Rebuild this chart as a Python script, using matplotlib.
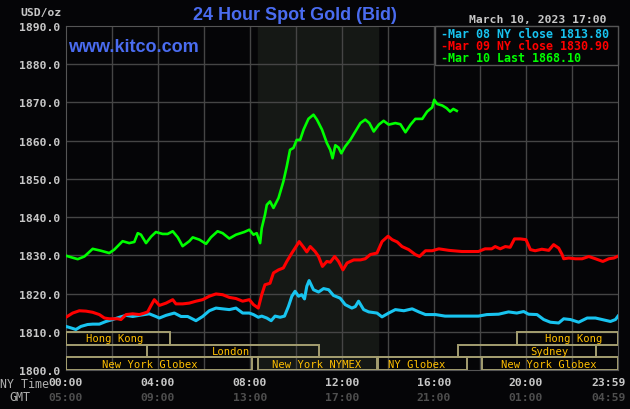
import matplotlib
matplotlib.use("Agg")
import matplotlib.pyplot as plt
from matplotlib.patches import Rectangle

# --- data (hours since 00:00 NY time, price USD/oz) ---
green_t = [0.00, 0.22, 0.51, 0.80, 1.16, 1.52, 1.88, 2.10, 2.46, 2.75, 2.97, 3.12, 3.26, 3.48,
           3.70, 3.91, 4.20, 4.42, 4.64, 4.86, 5.07, 5.36, 5.51, 5.80, 6.09, 6.30, 6.59, 6.81,
           7.10, 7.39, 7.75, 7.97, 8.15, 8.29, 8.44, 8.51, 8.65, 8.73, 8.87, 9.02, 9.24, 9.45,
           9.60, 9.74, 9.89, 10.03, 10.18, 10.33, 10.54, 10.76, 10.91, 11.13, 11.34, 11.49,
           11.59, 11.71, 11.85, 11.97, 12.14, 12.36, 12.58, 12.80, 13.01, 13.19, 13.38, 13.60,
           13.81, 14.03, 14.32, 14.54, 14.76, 14.98, 15.19, 15.49, 15.70, 15.92, 16.01, 16.14,
           16.36, 16.55, 16.70, 16.84, 16.99]
green_v = [1829.9, 1829.5, 1829.0, 1829.7, 1831.7, 1831.2, 1830.6, 1831.5, 1833.7, 1833.2,
           1833.5, 1835.8, 1835.4, 1833.2, 1834.9, 1836.1, 1835.6, 1835.6, 1836.3, 1834.7,
           1832.4, 1833.7, 1834.7, 1834.1, 1833.0, 1834.7, 1836.3, 1835.8, 1834.4, 1835.4,
           1836.1, 1836.7, 1835.4, 1835.8, 1833.2, 1837.1, 1840.6, 1843.2, 1844.1, 1842.4,
           1845.0, 1849.3, 1853.3, 1857.6, 1858.1, 1860.2, 1860.2, 1862.9, 1865.7, 1866.8,
           1865.5, 1862.9, 1859.4, 1857.6, 1855.4, 1858.8, 1858.2, 1856.7, 1858.5, 1860.2,
           1862.4, 1864.6, 1865.5, 1864.6, 1862.4, 1864.2, 1865.2, 1864.2, 1864.6, 1864.3,
           1862.2, 1864.2, 1865.7, 1865.7, 1867.6, 1868.7, 1870.7, 1869.6, 1869.2, 1868.5,
           1867.6, 1868.3, 1867.8]

red_t = [0.00, 0.29, 0.58, 0.87, 1.16, 1.45, 1.67, 1.88, 2.25, 2.39, 2.61, 2.90, 3.19, 3.41,
         3.55, 3.70, 3.84, 4.06, 4.35, 4.64, 4.78, 5.07, 5.36, 5.65, 5.94, 6.23, 6.52, 6.81,
         7.10, 7.39, 7.68, 7.97, 8.15, 8.36, 8.51, 8.65, 8.87, 9.02, 9.24, 9.45, 9.60, 9.82,
         9.96, 10.14, 10.33, 10.47, 10.62, 10.83, 10.98, 11.15, 11.34, 11.49, 11.68, 11.85,
         12.04, 12.22, 12.51, 12.80, 13.01, 13.23, 13.52, 13.74, 14.00, 14.18, 14.40, 14.61,
         14.90, 15.19, 15.37, 15.63, 15.92, 16.21, 16.65, 17.21, 17.93, 18.22, 18.51, 18.66,
         18.88, 19.10, 19.31, 19.50, 19.75, 20.00, 20.19, 20.40, 20.69, 20.99, 21.20, 21.42,
         21.57, 21.64, 21.86, 22.15, 22.44, 22.73, 23.02, 23.34, 23.60, 23.82, 23.97]
red_v = [1813.8, 1814.9, 1815.5, 1815.4, 1815.1, 1814.5, 1813.6, 1813.4, 1813.4, 1813.2,
         1814.5, 1814.7, 1814.5, 1814.9, 1815.2, 1816.9, 1818.4, 1816.9, 1817.5, 1818.4,
         1817.3, 1817.3, 1817.5, 1818.0, 1818.4, 1819.3, 1819.9, 1819.7, 1819.0, 1818.7,
         1818.0, 1818.4, 1817.1, 1816.2, 1819.7, 1822.3, 1822.7, 1825.4, 1826.2, 1826.7,
         1828.4, 1830.6, 1831.9, 1833.6, 1832.1, 1830.9, 1832.3, 1831.0, 1829.7, 1827.1,
         1828.4, 1828.2, 1829.7, 1828.4, 1826.2, 1828.0, 1828.8, 1828.8, 1829.1, 1830.2,
         1830.6, 1833.6, 1835.0, 1834.1, 1833.5, 1832.3, 1831.5, 1830.2, 1829.7, 1831.2,
         1831.2, 1831.7, 1831.3, 1831.0, 1831.0, 1831.7, 1831.7, 1832.3, 1831.7, 1832.3,
         1832.1, 1834.3, 1834.3, 1834.1, 1831.5, 1831.2, 1831.6, 1831.3, 1832.8, 1831.9,
         1830.2, 1829.1, 1829.3, 1829.1, 1829.1, 1829.7, 1829.1, 1828.4, 1829.1, 1829.3,
         1829.7]

cyan_t = [0.00, 0.22, 0.43, 0.65, 0.94, 1.16, 1.45, 1.74, 2.03, 2.32, 2.61, 2.90, 3.19, 3.62,
          3.91, 4.06, 4.35, 4.71, 5.00, 5.29, 5.65, 5.94, 6.23, 6.52, 6.81, 7.10, 7.39, 7.68,
          7.97, 8.15, 8.36, 8.51, 8.73, 8.92, 9.09, 9.31, 9.50, 9.67, 9.82, 9.96, 10.11, 10.25,
          10.37, 10.47, 10.57, 10.76, 10.98, 11.20, 11.42, 11.63, 11.92, 12.14, 12.43, 12.58,
          12.72, 12.94, 13.16, 13.52, 13.74, 14.03, 14.32, 14.69, 15.05, 15.34, 15.63, 16.07,
          16.48, 17.21, 17.93, 18.30, 18.81, 19.24, 19.60, 19.90, 20.11, 20.48, 20.77, 21.06,
          21.42, 21.64, 21.93, 22.29, 22.66, 23.02, 23.31, 23.67, 23.89, 24.00]
cyan_v = [1811.4, 1811.0, 1810.6, 1811.4, 1811.9, 1812.0, 1812.0, 1812.7, 1813.2, 1813.8,
          1814.3, 1814.0, 1814.3, 1814.7, 1814.0, 1813.6, 1814.3, 1814.9, 1814.0, 1814.0,
          1812.9, 1814.0, 1815.5, 1816.2, 1816.0, 1815.8, 1816.2, 1814.9, 1814.9, 1814.5,
          1813.8, 1814.1, 1813.6, 1812.9, 1814.1, 1813.8, 1814.1, 1816.6, 1819.3, 1820.6,
          1819.3, 1819.7, 1818.6, 1821.9, 1823.4, 1821.0, 1820.4, 1821.3, 1821.0, 1819.5,
          1818.8, 1817.1, 1816.2, 1816.6, 1818.0, 1815.8, 1815.2, 1814.9, 1813.9, 1814.9,
          1815.8, 1815.5, 1816.0, 1815.2, 1814.5, 1814.5, 1814.1, 1814.1, 1814.1, 1814.5,
          1814.6, 1815.2, 1814.9, 1815.3, 1814.6, 1814.5, 1813.2, 1812.5, 1812.3, 1813.4,
          1813.2, 1812.5, 1813.6, 1813.6, 1813.2, 1812.7, 1813.2, 1814.1]

legend_labels = ["Mar 08 NY close 1813.80", "Mar 09 NY close 1830.90", "Mar 10 Last 1868.10"]

# market sessions: (row, start hour, end hour, label, label hour)
sessions = [
    (0, 0.0, 4.52, "Hong Kong", 2.13),
    (0, 19.6, 24.0, "Hong Kong", 22.09),
    (1, 3.52, 11.0, "London", 7.17),
    (1, 17.06, 23.03, "Sydney", 21.0),
    (2, 0.0, 8.07, "New York Globex", 3.65),
    (2, 8.33, 13.53, "New York NYMEX", 10.91),
    (2, 13.58, 17.42, "NY Globex", 15.26),
    (2, 18.1, 24.0, "New York Globex", 21.0),
]
nymex_span = (8.33, 13.55)

xtick_hours = [0, 4, 8, 12, 16, 20, 23.6]
ny_labels = ["00:00", "04:00", "08:00", "12:00", "16:00", "20:00", "23:59"]
gmt_labels = ["05:00", "09:00", "13:00", "17:00", "21:00", "01:00", "04:59"]

BG = "#050507"
MONO = "DejaVu Sans Mono"

fig = plt.figure(figsize=(6.3, 4.1), dpi=100, facecolor=BG)
ax = fig.add_axes([66 / 630, 39 / 410, 552 / 630, 344 / 410], facecolor=BG)
ax.set_xlim(0, 24)
ax.set_ylim(1800, 1890)

ax.axvspan(*nymex_span, color="#151815", zorder=0)
for h in range(2, 24, 2):
    ax.axvline(h, color="#454545", lw=1, zorder=1)
for v in range(1810, 1890, 10):
    ax.axhline(v, color="#454545", lw=1, zorder=1)
for s in ax.spines.values():
    s.set_color("#555555")

ax.plot(cyan_t, cyan_v, color="#18c4f0", lw=2.2, zorder=3)
ax.plot(red_t, red_v, color="#ff0000", lw=2.2, zorder=3)
ax.plot(green_t, green_v, color="#00ff00", lw=1.9, zorder=4)

# session boxes in the bottom band
row_h = 10 / 3
for row, t0, t1, name, tx in sessions:
    y1 = 1810 - row * row_h
    ax.add_patch(Rectangle((t0, y1 - row_h), t1 - t0, row_h, fill=False,
                           edgecolor="#a49e70", lw=1.4, zorder=5))
    ax.text(tx, y1 - row_h / 2, name, color="#ffbf00", family=MONO,
            fontsize=7.6, ha="center", va="center", zorder=6)

ax.set_yticks(range(1800, 1891, 10))
ax.set_yticklabels([f"{v:.1f}" for v in range(1800, 1891, 10)], family=MONO,
                   fontsize=8.2, fontweight="bold", color="#c8c8c8")
ax.tick_params(length=0, pad=4)
ax.set_xticks([])

for h, a, b in zip(xtick_hours, ny_labels, gmt_labels):
    ax.text(h, -0.036, a, transform=ax.get_xaxis_transform(), ha="center", va="center",
            family=MONO, fontsize=8.2, fontweight="bold", color="#c8c8c8")
    ax.text(h, -0.078, b, transform=ax.get_xaxis_transform(), ha="center", va="center",
            family=MONO, fontsize=8.2, fontweight="bold", color="#4e4e4e")
fig.text(24 / 630, 1 - 385 / 410, "NY Time", ha="center", va="center", family=MONO,
         fontsize=8.4, color="#b0b0b0")
fig.text(20 / 630, 1 - 398 / 410, "GMT", ha="center", va="center", family=MONO,
         fontsize=8.4, color="#b0b0b0")

fig.text(41 / 630, 1 - 13 / 410, "USD/oz", ha="center", va="center", family=MONO,
         fontsize=8.2, fontweight="bold", color="#c8c8c8")
fig.text(295 / 630, 1 - 16 / 410, "24 Hour Spot Gold (Bid)", ha="center", va="center",
         family="Liberation Sans", fontsize=13, fontweight="bold", color="#4a6cf0")
fig.text(68 / 630, 1 - 48 / 410, "www.kitco.com", ha="left", va="center",
         family="Liberation Sans", fontsize=13, fontweight="bold", color="#4a6cf0")
fig.text(538 / 630, 1 - 20 / 410, "March 10, 2023 17:00", ha="center", va="center",
         family=MONO, fontsize=8.2, fontweight="bold", color="#c8c8c8")

# legend box
fig.patches.append(Rectangle((435 / 630, 1 - 66 / 410), 183 / 630, 39 / 410,
                             transform=fig.transFigure, facecolor=BG,
                             edgecolor="#555555", lw=1, zorder=10))
for lab, c, y in zip(legend_labels, ["#18c4f0", "#ff0000", "#00ff00"], [34, 46, 59]):
    fig.text(441 / 630, 1 - y / 410, "-" + lab, ha="left", va="center", family=MONO,
             fontsize=8.4, fontweight="bold", color=c, zorder=11)

fig.savefig("out.png", dpi=100, facecolor=BG)
